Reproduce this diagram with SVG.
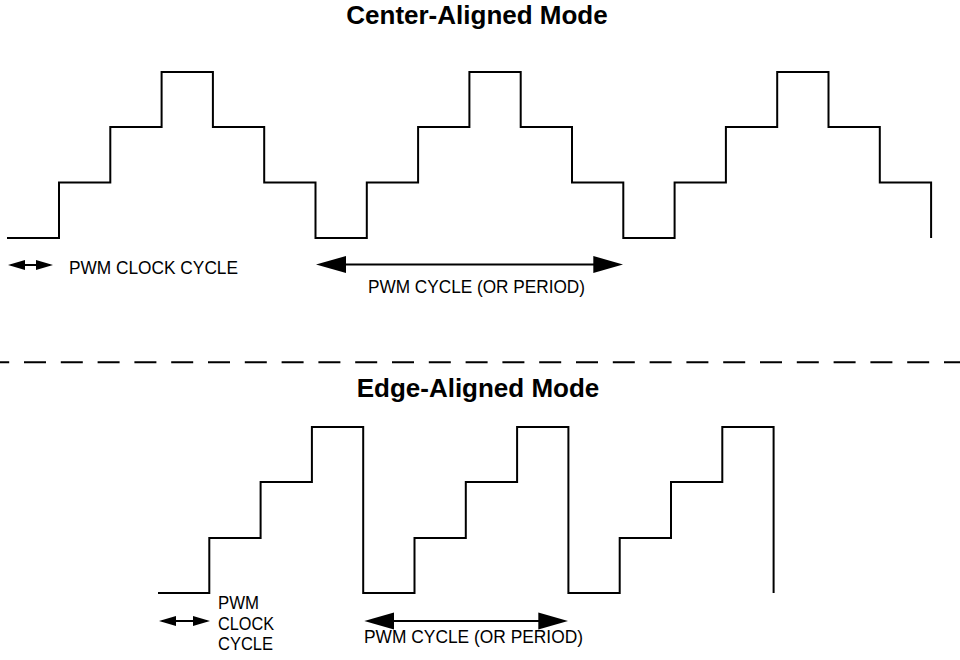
<svg xmlns="http://www.w3.org/2000/svg" width="960" height="660" viewBox="0 0 960 660">
<style>
.wave{fill:none;stroke:#000;stroke-width:2;stroke-linejoin:miter;stroke-linecap:butt}
.dim{fill:none;stroke:#000;stroke-width:2}
.big{marker-start:url(#bigHead);marker-end:url(#bigHead)}
.small{marker-start:url(#smallHead);marker-end:url(#smallHead)}
.title{font-family:"Liberation Sans",Arial,Helvetica,sans-serif;font-weight:bold;font-size:26px;fill:#000;text-anchor:middle}
.lbl{font-family:"Liberation Sans",Arial,Helvetica,sans-serif;font-size:18px;fill:#000}
.sep{fill:none;stroke:#000;stroke-width:2;stroke-dasharray:22 14.8;stroke-dashoffset:12.8}
</style>
<defs>
<marker id="bigHead" markerUnits="userSpaceOnUse" viewBox="0 -9 30 18" refX="24" refY="0" markerWidth="30" markerHeight="18" orient="auto-start-reverse">
<path d="M0,-8.5 L30,0 L0,8.5 z" fill="#000"/>
</marker>
<marker id="smallHead" markerUnits="userSpaceOnUse" viewBox="0 -5.5 17 11" refX="14" refY="0" markerWidth="17" markerHeight="11" orient="auto-start-reverse">
<path d="M0,-5 L17,0 L0,5 z" fill="#000"/>
</marker>
</defs>
<rect width="960" height="660" fill="#fff"/>

<g id="center-title"><text class="title" x="477" y="24">Center-Aligned Mode</text></g>
<g id="center-waveform">
<path class="wave" d="M7,238 H59 V182.5 H110.3 V127 H161.6 V72 H212.9 V127 H264.2 V182.5 H315.5 V238 H366.8 V182.5 H418.1 V127 H469.4 V72 H520.7 V127 H572 V182.5 H623.3 V238 H674.6 V182.5 H725.9 V127 H777.2 V72 H828.5 V127 H879.8 V182.5 H931.1 V238"/>
</g>
<g id="center-clock-label"><text class="lbl" x="69" y="274" textLength="169" lengthAdjust="spacingAndGlyphs">PWM CLOCK CYCLE</text></g>
<g id="center-period-label"><text class="lbl" x="368" y="293" textLength="217" lengthAdjust="spacingAndGlyphs">PWM CYCLE (OR PERIOD)</text></g>

<g id="separator"><line class="sep" x1="0" y1="362.3" x2="960" y2="362.3"/></g>

<g id="edge-title"><text class="title" x="478" y="397">Edge-Aligned Mode</text></g>
<g id="edge-waveform">
<path class="wave" d="M158,593 H209.3 V538 H260.6 V482 H311.9 V427 H363.2 V593 H414.5 V538 H465.8 V482 H517.1 V427 H568.4 V593 H619.7 V538 H671 V482 H722.3 V427 H773.6 V593"/>
</g>
<g id="edge-clock-label">
<text class="lbl" x="218" y="609" textLength="41" lengthAdjust="spacingAndGlyphs">PWM</text>
<text class="lbl" x="218" y="629.5" textLength="56" lengthAdjust="spacingAndGlyphs">CLOCK</text>
<text class="lbl" x="218" y="650" textLength="55" lengthAdjust="spacingAndGlyphs">CYCLE</text>
</g>
<g id="edge-period-label"><text class="lbl" x="364" y="643" textLength="219" lengthAdjust="spacingAndGlyphs">PWM CYCLE (OR PERIOD)</text></g>

<g id="connectors">
<line class="dim small" x1="11" y1="265" x2="50" y2="265"/>
<line class="dim big" x1="322" y1="264.5" x2="617.3" y2="264.5"/>
<line class="dim small" x1="162" y1="621" x2="207" y2="621"/>
<line class="dim big" x1="370.3" y1="621" x2="562.3" y2="621"/>
</g>
</svg>
